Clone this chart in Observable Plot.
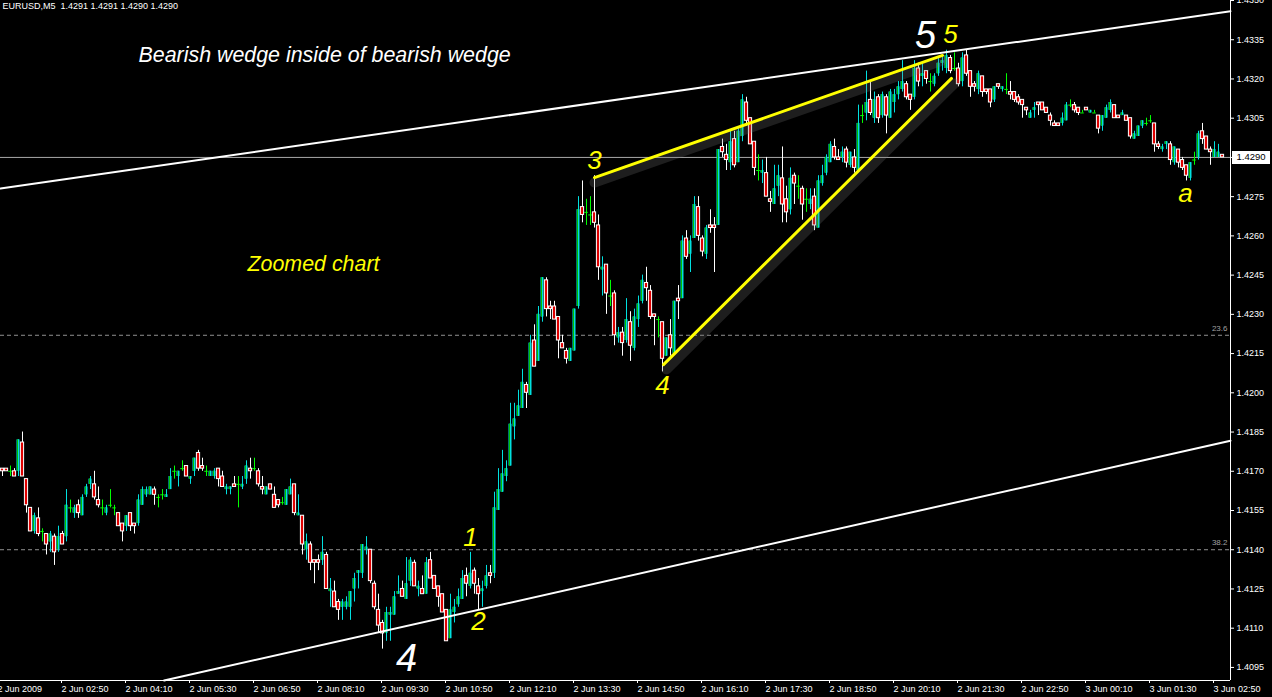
<!DOCTYPE html>
<html>
<head>
<meta charset="utf-8">
<script src="https://cdn.jsdelivr.net/npm/d3@7"></script>
<script src="https://cdn.jsdelivr.net/npm/@observablehq/plot@0.6"></script>
<style>
html, body { margin: 0; padding: 0; background: #000; overflow: hidden; }
#chart svg { display: block; }
</style>
</head>
<body>
<div id="chart"></div>
<script>
// EURUSD M5 candles, 2 Jun 2009 01:35 onwards; prices quoted as pips above 1.4000
const BASE = 1.4, PIP = 0.0001;
const opens = [
171,171,170,170,170,181,167,156,147,152, 147,146,143,145,140,146,145,156,154,157,
153,161,165,165,159,156,154,157,156,154, 150,149,154,150,150,157,161,161,163,160,
161,160,163,170,168,171,172,167,170,177, 172,170,168,168,171,168,163,163,165,165,
164,167,171,171,170,164,161,165,161,159, 158,157,161,165,153,153,140,142,136,136,
136,138,124,124,120,118,118,118,125,131, 131,140,140,127,117,112,108,115,115,123,
125,121,128,135,125,125,123,136,130,126, 123,117,106,116,119,121,130,126,132,126,
124,126,131,131,155,162,168,172,187,191, 194,203,199,220,212,229,243,233,233,229,
219,216,212,216,233,271,269,268,269,264, 247,249,237,238,221,223,220,227,217,228,
235,242,239,230,228,227,214,222,215,236, 236,259,253,259,271,259,253,264,264,264,
294,291,288,297,288,298,311,305,296,285, 284,284,274,272,279,282,274,270,283,279,
278,274,272,275,263,280,284,288,294,290, 290,293,287,290,285,306,307,312,305,313,
306,313,305,311,314,316,318,314,313,324, 321,323,319,318,322,326,324,328,324,324,
319,329,323,318,316,321,316,316,312,318, 316,316,315,315,313,312,309,305,308,311,
311,309,306,303,303,303,304,310,310,309, 307,309,307,307,306,302,305,308,310,306,
306,306,305,297,298,302,303,304,303,295, 293,295,295,288,293,289,287,282,289,290,
300,298,293,290,290,291];
const highs = [
171,171,172,171,182,185,167,156,154,156, 148,146,147,146,149,147,163,159,157,159,
161,165,168,170,164,159,157,163,157,154, 150,153,154,150,161,164,164,164,164,161,
163,163,171,172,170,174,172,168,175,178, 175,172,170,171,171,170,165,164,168,168,
168,174,175,175,171,168,164,165,164,159, 160,163,167,165,161,153,146,143,136,138,
145,139,129,128,121,121,122,124,131,132, 142,145,140,128,123,113,118,118,124,130,
128,137,137,136,128,130,137,139,130,126, 123,117,123,121,125,132,133,139,133,129,
128,134,134,162,171,178,174,196,196,201, 209,204,222,226,233,244,244,235,235,229,
222,217,217,232,275,281,274,275,283,268, 252,249,243,239,225,225,236,231,232,237,
245,248,241,230,229,227,221,228,235,241, 260,262,260,275,275,260,264,270,267,293,
297,295,300,300,301,314,313,305,296,291, 289,290,277,287,287,294,279,286,284,283,
279,278,278,278,283,287,291,296,297,293, 294,294,292,293,310,310,323,319,315,314,
315,314,316,316,319,327,319,314,327,326, 326,323,322,322,328,329,331,329,330,326,
330,331,323,319,323,321,316,316,317,318, 317,322,319,315,314,312,309,308,311,311,
311,309,307,304,303,307,311,312,311,309, 308,309,308,308,306,306,310,312,310,306,
308,306,305,300,302,304,305,306,303,296, 295,296,296,294,293,290,287,288,292,300,
303,298,294,296,295,291];
const lows = [
168,170,168,168,168,168,154,147,146,145, 143,138,139,134,139,142,143,154,152,152,
153,160,163,159,156,153,153,156,153,149, 143,147,147,146,149,157,160,161,157,156,
159,160,163,167,164,170,168,165,168,170, 170,168,168,167,164,164,161,161,164,156,
163,165,167,170,164,161,161,163,156,156, 157,157,161,153,153,138,136,132,127,132,
134,125,118,118,113,113,117,113,120,125, 129,138,127,117,108,102,105,105,115,123,
122,121,126,126,122,123,123,129,125,118, 116,105,106,112,118,121,122,125,123,117,
118,125,127,129,155,162,166,172,182,191, 194,194,199,210,212,227,229,228,228,213,
217,211,212,216,232,265,264,264,263,243, 237,230,233,218,219,214,219,212,216,225,
234,235,228,218,221,208,214,214,215,228, 236,251,246,259,258,252,251,261,246,264,
290,285,285,286,288,296,302,295,283,281, 280,275,269,272,275,265,265,268,272,274,
266,269,270,262,263,279,283,288,289,289, 288,286,286,284,285,303,304,306,303,303,
305,299,305,307,312,315,312,308,312,317, 317,318,315,317,321,323,322,322,323,317,
317,321,313,315,314,313,314,309,311,316, 315,314,312,311,310,305,306,305,305,306,
308,307,302,302,302,302,304,309,307,306, 307,308,307,307,299,300,305,307,305,305,
306,304,297,297,298,301,302,303,292,293, 292,293,287,287,286,285,281,281,287,289,
295,293,287,290,290,290];
const closes = [
170,170,170,168,182,168,157,147,153,146, 147,142,146,139,145,142,157,156,156,154,
160,164,167,160,157,156,156,157,156,149, 147,153,149,149,159,163,163,164,161,160,
161,161,168,170,170,171,168,168,175,171, 171,170,170,170,167,164,164,164,164,165,
165,172,170,171,165,163,164,163,156,157, 158,163,164,154,154,142,143,135,135,135,
139,125,125,118,117,120,120,124,129,132, 142,141,128,118,111,108,116,116,122,124,
122,127,136,126,126,123,135,129,125,122, 116,105,117,118,122,129,127,131,127,123,
125,130,130,156,163,169,171,188,190,195, 204,200,219,210,230,244,232,232,228,220,
217,213,217,232,270,268,269,268,265,248, 248,238,237,222,223,219,228,218,229,234,
243,240,229,229,228,213,221,217,235,235, 258,252,258,272,260,254,263,263,263,293,
292,289,296,287,300,312,304,295,286,285, 285,275,273,278,283,272,269,282,280,279,
272,274,274,264,281,283,290,295,290,289, 292,288,292,286,303,306,311,307,312,305,
314,306,315,314,317,319,313,312,324,319, 322,320,319,321,326,327,329,323,324,318,
328,322,317,317,322,315,315,311,317,317, 317,316,314,312,311,310,308,307,309,310,
308,307,304,302,302,305,310,310,308,307, 307,308,308,307,301,306,309,311,305,305,
307,304,298,299,302,304,303,304,295,294, 294,296,289,294,288,286,283,288,289,299,
297,293,292,293,292,290];

// time axis (bar index -> label)
const xTickBars = [-1,15,31,47,63,79,95,111,127,143,159,175,191,207,223,239,255,271,287,303];
const xTickLabels = ["2 Jun 2009","2 Jun 02:50","2 Jun 04:10","2 Jun 05:30","2 Jun 06:50","2 Jun 08:10",
  "2 Jun 09:30","2 Jun 10:50","2 Jun 12:10","2 Jun 13:30","2 Jun 14:50","2 Jun 16:10","2 Jun 17:30",
  "2 Jun 18:50","2 Jun 20:10","2 Jun 21:30","2 Jun 22:50","3 Jun 00:10","3 Jun 01:30","3 Jun 02:50"];
const yTicks = [1.4095,1.4110,1.4125,1.4140,1.4155,1.4170,1.4185,1.4200,1.4215,1.4230,1.4245,
  1.4260,1.4275,1.4290,1.4305,1.4320,1.4335,1.4350];

// horizontal levels
const fibLevels = [1.4222, 1.4140];
const fibLabels = ["23.6", "38.2"];
const lastPrice = 1.4290;
const headerText = "EURUSD,M5  1.4291 1.4291 1.4290 1.4290";

// trend lines (bar index, price)
const outerUpperBars = [-0.5, 307], outerUpperPrices = [1.42781, 1.43459];
const outerLowerBars = [40.4, 307], outerLowerPrices = [1.40900, 1.41817];
const wedgeUpperBars = [148, 235], wedgeUpperPrices = [1.42823, 1.43290];
const wedgeLowerBars = [165.25, 237.25], wedgeLowerPrices = [1.42108, 1.43202];

// annotations
const noteTexts = ["Bearish wedge inside of bearish wedge", "Zoomed chart"];
const noteBars = [34, 61.25];
const notePrices = [1.43290, 1.42493];
const waveTexts = ["1", "2", "3", "4", "5", "a"];
const waveBars = [117, 119, 148, 165, 237, 295.75];
const wavePrices = [1.41446, 1.41125, 1.42888, 1.42028, 1.43370, 1.42762];
const degreeTexts = ["4", "5"];
const degreeBars = [101, 230.75];
const degreePrices = [1.40984, 1.43364];

// ---- build ----
const candles = opens.map((o, i) => ({
  i, o: BASE + o * PIP, h: BASE + highs[i] * PIP, l: BASE + lows[i] * PIP, c: BASE + closes[i] * PIP,
  kind: closes[i] > o ? "up" : closes[i] < o ? "down" : "flat"
}));
const up = candles.filter(d => d.kind === "up");
const down = candles.filter(d => d.kind === "down");
const flat = candles.filter(d => d.kind === "flat");
const pts = (bars, prices) => bars.map((b, k) => ({bar: b, price: prices[k]}));
const tickLabel = new Map(xTickBars.map((b, k) => [b, xTickLabels[k]]));
const CYAN = "#00e0e0", LIME = "#00ff00", YELLOW = "#ffff00";
const FONT = "'Liberation Sans', Arial, sans-serif";
const fmt = d3.format(".4f");

const notes = noteTexts.map((t, k) => ({t, bar: noteBars[k], price: notePrices[k]}));
const waves = waveTexts.map((t, k) => ({t, bar: waveBars[k], price: wavePrices[k]}));
const degrees = degreeTexts.map((t, k) => ({t, bar: degreeBars[k], price: degreePrices[k]}));

const plot = Plot.plot({
  width: 1272, height: 697,
  marginLeft: 0, marginRight: 42, marginTop: 0, marginBottom: 17,
  style: {background: "#000", color: "#fff", fontFamily: FONT, fontSize: "9px"},
  x: {domain: [-0.5, 307], axis: null},
  y: {domain: [1.4090, 1.4350], axis: null},
  marks: [
    Plot.ruleY(fibLevels, {stroke: "#909090", strokeDasharray: "4,3"}),
    Plot.ruleY([lastPrice], {stroke: "#a8a8a8"}),
    // wicks
    Plot.ruleX(up, {x: "i", y1: "l", y2: "h", stroke: CYAN}),
    Plot.ruleX(down, {x: "i", y1: "l", y2: "h", stroke: "#fff"}),
    Plot.ruleX(flat, {x: "i", y1: "l", y2: "h", stroke: LIME}),
    Plot.ruleY(flat, {y: "o", x1: d => d.i - 0.45, x2: d => d.i + 0.45, stroke: LIME}),
    // bodies
    Plot.rect(up, {x1: d => d.i - 0.375, x2: d => d.i + 0.375, y1: "o", y2: "c", fill: CYAN}),
    Plot.ruleX(up, {x: "i", y1: "o", y2: "c", dx: -1, stroke: "#00c000"}),
    Plot.rect(down, {x1: d => d.i - 0.4, x2: d => d.i + 0.4, y1: "c", y2: "o", fill: "#e00000", stroke: "#fff", strokeWidth: 1}),
    // outer wedge
    Plot.line(pts(outerUpperBars, outerUpperPrices), {x: "bar", y: "price", stroke: "#fff", strokeWidth: 2}),
    Plot.line(pts(outerLowerBars, outerLowerPrices), {x: "bar", y: "price", stroke: "#fff", strokeWidth: 2}),
    // inner wedge (with soft shadow)
    Plot.line(pts(wedgeUpperBars, wedgeUpperPrices), {x: "bar", y: "price", stroke: "#777", strokeOpacity: 0.25, strokeWidth: 10, dy: 5}),
    Plot.line(pts(wedgeLowerBars, wedgeLowerPrices), {x: "bar", y: "price", stroke: "#777", strokeOpacity: 0.25, strokeWidth: 10, dx: 3, dy: 5}),
    Plot.line(pts(wedgeUpperBars, wedgeUpperPrices), {x: "bar", y: "price", stroke: YELLOW, strokeWidth: 3}),
    Plot.line(pts(wedgeLowerBars, wedgeLowerPrices), {x: "bar", y: "price", stroke: YELLOW, strokeWidth: 3}),
    // axes
    Plot.ruleX([307], {stroke: "#fff"}),
    Plot.ruleY([1.4090], {stroke: "#fff"}),
    Plot.axisY({ticks: yTicks, anchor: "right", tickSize: 3, tickPadding: 3,
      tickFormat: d => d === lastPrice ? "" : fmt(d), label: null, fontSize: 9}),
    Plot.axisX({ticks: xTickBars, anchor: "bottom", tickSize: 3, tickPadding: 2, textAnchor: "start", dx: -1,
      tickFormat: d => tickLabel.get(d), label: null, fontSize: 9}),
    // fib labels
    Plot.text(fibLabels, {y: (d, k) => fibLevels[k], frameAnchor: "right", textAnchor: "end", dx: -3, dy: -7, fill: "#a0a0a0", fontSize: 8}),
    // header
    Plot.text([headerText], {frameAnchor: "top-left", textAnchor: "start", lineAnchor: "top", dx: 2, dy: 2, fill: "#fff", fontSize: 9}),
    // notes
    Plot.text(notes.slice(0, 1), {x: "bar", y: "price", text: "t", textAnchor: "start", fill: "#fff", fontSize: 21.4, fontStyle: "italic"}),
    Plot.text(notes.slice(1), {x: "bar", y: "price", text: "t", textAnchor: "start", fill: YELLOW, fontSize: 21.4, fontStyle: "italic"}),
    Plot.text(waves, {x: "bar", y: "price", text: "t", fill: YELLOW, fontSize: 26, fontStyle: "italic"}),
    Plot.text(degrees, {x: "bar", y: "price", text: "t", fill: "#fff", fontSize: 38, fontStyle: "italic"})
  ]
});

// current price marker on the price axis
const yPx = plot.scale("y").apply(lastPrice);
const svg = d3.select(plot);
const g = svg.append("g");
g.append("rect").attr("x", 1232).attr("y", Math.round(yPx) - 6).attr("width", 38).attr("height", 13).attr("fill", "#fff");
g.append("text").attr("x", 1251).attr("y", yPx).attr("dy", "0.35em").attr("text-anchor", "middle")
  .style("fill", "#000").style("font-family", FONT).style("font-size", "9.5px").text(fmt(lastPrice));

document.getElementById("chart").append(plot);
</script>
</body>
</html>
